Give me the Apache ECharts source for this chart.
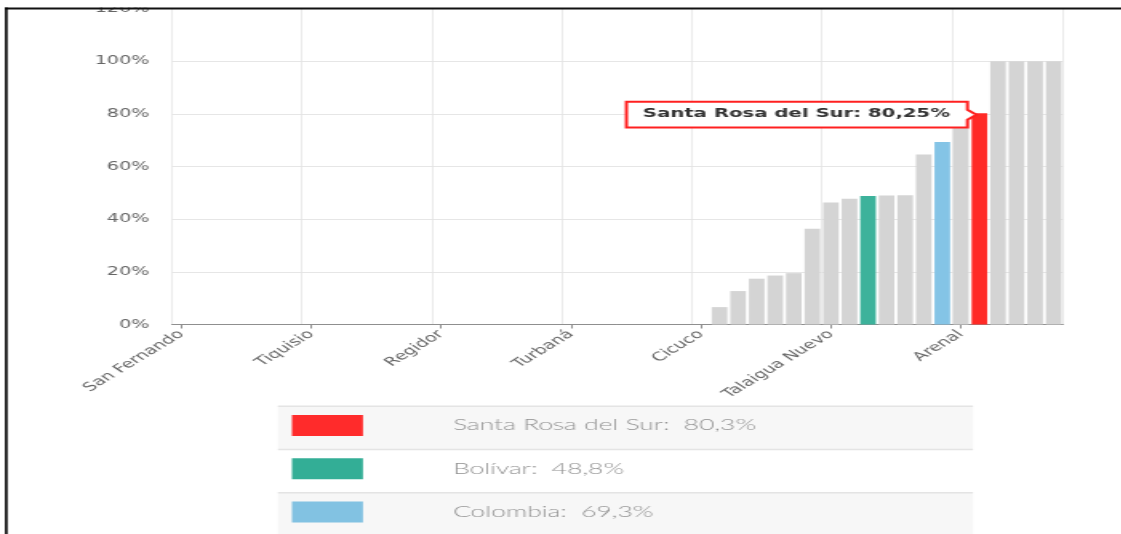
<!DOCTYPE html>
<html>
<head>
<meta charset="utf-8">
<script src="https://cdn.jsdelivr.net/npm/echarts@6/dist/echarts.min.js"></script>
<style>
html,body{margin:0;padding:0;background:#fff;overflow:hidden;width:1121px;height:534px;}
#main{width:700.625px;height:534px;transform:scaleX(1.6);transform-origin:0 0;}
</style>
</head>
<body>
<div id="main"></div>
<script>
// ---------- DATA ----------
const categories = [
  'San Fernando','Achí','Altos del Rosario','Barranco de Loba','El Peñón','Hatillo de Loba','Montecristo',
  'Tiquisio','Norosí','Pinillos','Río Viejo','San Jacinto del Cauca','San Martín de Loba','Cantagallo',
  'Regidor','Morales','Margarita','Simití','San Pablo','El Guamo','Córdoba',
  'Turbaná','Calamar','Soplaviento','Zambrano','Santa Catalina','Clemencia','Arroyohondo',
  'Cicuco','San Cristóbal','Villanueva','San Estanislao','Mahates','María La Baja','Santa Rosa',
  'Talaigua Nuevo','Arjona','Bolívar','Turbaco','San Juan Nepomuceno','San Jacinto','Colombia',
  'Arenal','Santa Rosa del Sur','Mompós','Magangué','El Carmen de Bolívar','Cartagena'
];
const values = [
  0,0,0,0,0,0,0,
  0,0,0,0,0,0,0,
  0,0,0,0,0,0,0,
  0,0,0,0,0,0,0,
  0,6.6,12.7,17.4,18.6,19.5,36.4,
  46.3,47.8,48.8,49.0,49.1,64.6,69.3,
  78.0,80.25,100,100,100,100
];
const highlightNames  = ['Santa Rosa del Sur','Bolívar','Colombia'];
const highlightColors = ['#ff2a26','#3db29b','#84c4e6'];
const legendColors    = ['#ff2b2b','#33ae96','#82c2e2'];
const tooltipName = 'Santa Rosa del Sur';
const yTicks = [0,20,40,60,80,100,120];

// ---------- LAYOUT ----------
const S = 1.6;
const W = 1121 / S;
const R = x => x / S;

const chart = echarts.init(document.getElementById('main'), null, {renderer:'canvas'});

const barData = values.map((v,i) => {
  const h = highlightNames.indexOf(categories[i]);
  return {value: v, itemStyle: {color: h >= 0 ? highlightColors[h] : '#d4d4d4'}};
});

chart.setOption({
  animation: false,
  backgroundColor: '#fff',
  grid: {left: R(172), top: 8.6, width: R(1063-172), height: 315.9},
  xAxis: {
    type: 'category',
    data: categories,
    boundaryGap: true,
    axisLine: {lineStyle: {color: '#8f8f8f', width: 1}},
    axisTick: {show: true, alignWithLabel: true, interval: 6, length: 4, lineStyle: {color: '#8f8f8f'}},
    axisLabel: {interval: 6, rotate: 44, fontSize: 12, fontFamily: 'DejaVu Sans', color: '#666', margin: 8},
    splitLine: {show: true, interval: 6, lineStyle: {color: '#e3e3e3', width: 0.7}}
  },
  yAxis: {
    type: 'value',
    min: yTicks[0], max: yTicks[yTicks.length-1], interval: 20,
    axisLine: {show: false},
    axisTick: {show: false},
    axisLabel: {formatter: '{value}%', fontSize: 12, fontFamily: 'DejaVu Sans', color: '#666', margin: 14},
    splitLine: {show: true, lineStyle: {color: '#e6e6e6', width: 1}}
  },
  series: [{
    type: 'bar',
    data: barData,
    barCategoryGap: '16%'
  }]
});

// ---------- TOOLTIP + LEGEND + FRAME (graphic) ----------
const ti = categories.indexOf(tooltipName);
const p = chart.convertToPixel({seriesIndex: 0}, [ti, values[ti]]);
const tx = p[0] - R(3), ty = p[1] + 1.5;
const bl = R(-350), br = R(-9);
const fmt2 = v => v.toFixed(2).replace('.', ',');
const fmt1 = v => v.toFixed(1).replace('.', ',');

const graphics = [];
graphics.push({
  type: 'polygon', z: 100,
  shape: {points: [[tx+bl,ty-13],[tx+br,ty-13],[tx+br,ty-5],[tx,ty],[tx+br,ty+5],[tx+br,ty+12.7],[tx+bl,ty+12.7]]},
  style: {fill: '#fff', stroke: '#ff2020', lineWidth: 2}
});
graphics.push({
  type: 'text', z: 101,
  style: {text: tooltipName + ': ' + fmt2(values[ti]) + '%', x: tx + R(-180), y: ty - 1,
    align: 'center', verticalAlign: 'middle', font: 'bold 12.3px "DejaVu Sans"', fill: '#333'}
});

// legend table
const rowH = 43.3, top0 = 406;
highlightNames.forEach((name, i) => {
  const y0 = top0 + i * rowH;
  const v = values[categories.indexOf(name)];
  graphics.push({type: 'rect', z: 90, shape: {x: R(278), y: y0, width: R(973-278), height: rowH},
    style: {fill: i % 2 === 0 ? '#f7f7f7' : '#ffffff'}});
  graphics.push({type: 'rect', z: 91, shape: {x: R(278), y: y0 - 0.5, width: R(973-278), height: 1.5},
    style: {fill: '#e4e4e4'}});
  graphics.push({type: 'rect', z: 92, shape: {x: R(292), y: y0 + 9, width: R(71), height: 21},
    style: {fill: legendColors[i]}});
  graphics.push({type: 'text', z: 92,
    style: {text: name + ':  ' + fmt1(v) + '%', x: R(453), y: y0 + 19, align: 'left', verticalAlign: 'middle',
      font: '300 16.5px Lato', fill: '#909090'}});
});

// frame
graphics.push({type: 'rect', z: 110, shape: {x: 0, y: 0, width: W, height: 7.6}, style: {fill: '#fff'}});
graphics.push({type: 'rect', z: 111, shape: {x: R(5), y: 7.6, width: W, height: 1.8}, style: {fill: '#111'}});
graphics.push({type: 'rect', z: 111, shape: {x: R(5), y: 7.6, width: R(2.6), height: 534}, style: {fill: '#000'}});

chart.setOption({graphic: graphics});
</script>
</body>
</html>
